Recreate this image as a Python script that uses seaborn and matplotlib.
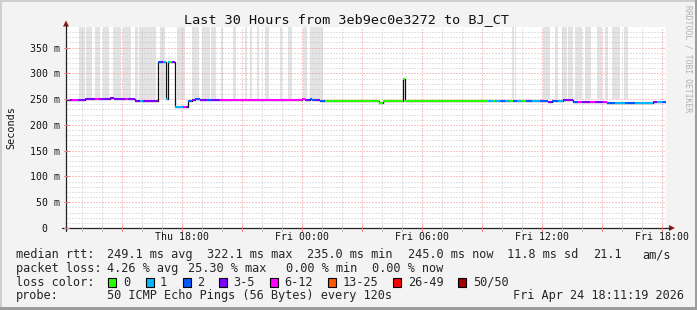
import numpy as np
import pandas as pd
import matplotlib
matplotlib.use("Agg")
import matplotlib.pyplot as plt
import seaborn as sns
from matplotlib.patches import Rectangle, Polygon
from matplotlib.lines import Line2D

# ---------------- data (hours since Thu 12:11:19) ----------------
seg_start = [0.0, 0.3, 0.6, 0.95, 1.45, 1.65, 2.2, 2.4, 2.95, 3.1, 3.45, 3.7, 3.85,
             4.6, 4.75, 4.85, 5.0, 5.1, 5.2, 5.3, 5.45, 5.85, 6.0, 6.1, 6.3, 6.45,
             6.7, 7.05, 7.3, 7.7, 11.8, 11.95, 12.2, 12.3, 12.5, 12.7, 12.95,
             15.65, 15.85, 16.85, 16.95, 20.85, 21.1, 21.35, 21.45, 21.7, 21.95,
             22.2, 22.35, 22.55, 22.8, 23.0, 23.3, 23.7, 23.95, 24.1, 24.3, 24.6,
             24.85, 25.35, 25.6, 25.8, 26.2, 26.45, 26.85, 27.05, 27.45, 27.95,
             28.45, 29.35, 29.55, 29.8]
seg_value = [248, 248, 248, 251, 251, 251, 252, 251, 251, 251, 246, 246, 246,
             322, 322, 322, 250, 322, 322, 322, 235, 235, 235, 246, 248, 251,
             248, 248, 248, 248, 251, 248, 251, 248, 248, 246, 246,
             243, 246, 290, 246, 247, 247, 247, 246, 246, 246,
             247, 247, 247, 247, 247, 247, 247, 246, 244, 246, 246,
             248, 245, 245, 244, 244, 244, 244, 243, 243, 243,
             243, 245, 244, 244]
seg_loss = [3, 4, 3, 3, 4, 3, 3, 3, 4, 3, 3, 1, 3,
            2, 3, 1, 1, 1, 0, 3, 1, 4, 3, 2, 3, 2,
            3, 2, 3, 4, 4, 3, 2, 2, 3, 2, 0,
            0, 0, 0, 0, 0, 1, 0, 1, 2, 1,
            0, 2, 1, 0, 2, 1, 2, 2, 3, 2, 1,
            3, 2, 4, 3, 4, 3, 4, 2, 1, 2,
            1, 3, 1, 2]
end_hour = 30.0

smoke_start = [0.65, 1.0, 1.45, 1.85, 2.35, 2.85, 3.45, 3.65, 4.7, 5.55, 6.3,
               6.8, 7.25, 7.75, 8.35, 8.95, 9.2, 9.55, 9.95, 10.7, 11.1, 11.85, 12.2,
               22.3, 22.45, 23.85, 24.45, 24.8, 25.1, 25.45, 25.95, 26.55, 26.95,
               27.3, 27.9]
smoke_end = [0.95, 1.3, 1.7, 2.15, 2.75, 3.25, 3.6, 4.5, 4.95, 5.95, 6.65,
             7.2, 7.5, 7.85, 8.5, 9.05, 9.3, 9.65, 10.15, 10.8, 11.3, 12.05, 12.85,
             22.38, 22.52, 24.2, 24.6, 25.05, 25.35, 25.8, 26.25, 26.8, 27.1,
             27.7, 28.1]
smoke_low = 251

loss_labels = ["0", "1", "2", "3-5", "6-12", "13-25", "26-49", "50/50"]
loss_colors = ["#26ff00", "#00b8ff", "#0059ff", "#7e00ff", "#ff00ff",
               "#ff5500", "#ff0000", "#a10000"]

xtick_hours = [5.811, 11.811, 17.811, 23.811, 29.811]
xtick_labels = ["Thu 18:00", "Fri 00:00", "Fri 06:00", "Fri 12:00", "Fri 18:00"]
ytick_values = [0, 50, 100, 150, 200, 250, 300, 350]
ytick_labels = ["0  ", "50 m", "100 m", "150 m", "200 m", "250 m", "300 m", "350 m"]

stats_rtt = ["249.1 ms avg", "322.1 ms max", "235.0 ms min", "245.0 ms now",
             "11.8 ms sd", "21.1", "am/s"]
stats_loss = ["4.26 % avg", "25.30 % max", "0.00 % min", "0.00 % now"]
probe_text = "50 ICMP Echo Pings (56 Bytes) every 120s"
stamp_text = "Fri Apr 24 18:11:19 2026"
title_text = "Last 30 Hours from 3eb9ec0e3272 to BJ_CT"

# ---------------- figure ----------------
W, H = 697, 310
sns.set_style("white")
plt.rcParams["font.family"] = ["DejaVu Sans Mono", "DejaVu Sans"]

fig = plt.figure(figsize=(W / 100, H / 100), dpi=100, facecolor="#f3f3f3")

def fx(x):
    return x / W

def fy(y):
    return 1 - y / H

# frame
fig.patches.append(Rectangle((0, 0), 1, 1, transform=fig.transFigure,
                             facecolor="#f3f3f3", edgecolor="none", zorder=-10))
fig.patches.append(Rectangle((0, fy(2)), 1, 2 / H, transform=fig.transFigure,
                             facecolor="#cfcfcf", edgecolor="none", zorder=-9))
fig.patches.append(Rectangle((0, 0), 2 / W, 1, transform=fig.transFigure,
                             facecolor="#cfcfcf", edgecolor="none", zorder=-9))
fig.patches.append(Rectangle((0, 0), 1, 3 / H, transform=fig.transFigure,
                             facecolor="#9c9c9c", edgecolor="none", zorder=-8))
fig.patches.append(Rectangle((fx(W - 2), 0), 2 / W, 1, transform=fig.transFigure,
                             facecolor="#9c9c9c", edgecolor="none", zorder=-8))

X0, X1, Y0, Y1 = 66, 666, 228, 27
ax = fig.add_axes([fx(X0), fy(Y0), (X1 - X0) / W, (Y0 - Y1) / H])
ax.set_facecolor("white")
ax.set_xlim(0, 30)
ax.set_ylim(0, 390)
for s in ax.spines.values():
    s.set_visible(False)

# smoke
widths = [e - s for s, e in zip(smoke_start, smoke_end)]
ax.bar(smoke_start, 390 - smoke_low, width=widths, bottom=smoke_low, align="edge",
       color="#e3e3e3", linewidth=0, zorder=1)

# grid (dotted)
dot = (0, (1, 2))
hour_lines = [0.811 + i for i in range(30)]
for h in hour_lines:
    major = (round(h - 0.811) + 13) % 3 == 0
    ax.axvline(h, color="#f08c8c" if major else "#c4c4c4", lw=0.72, ls=dot, zorder=2)
for v in range(10, 390, 10):
    major = v % 50 == 0
    ax.axhline(v, color="#f08c8c" if major else "#c4c4c4", lw=0.72, ls=dot, zorder=2)

# median line: black steps + loss-coloured segments
t_full = seg_start + [end_hour]
v_full = seg_value + [seg_value[-1]]
df = pd.DataFrame({"t": t_full, "v": v_full})
sns.lineplot(data=df, x="t", y="v", drawstyle="steps-post", color="#111111",
             linewidth=0.9, ax=ax, estimator=None, sort=False, zorder=3)
seg_end = seg_start[1:] + [end_hour]
ax.hlines(seg_value, seg_start, seg_end, colors=[loss_colors[c] for c in seg_loss],
          linewidth=1.5, zorder=4)

# ticks and labels
ax.set_xticks(xtick_hours)
ax.set_xticklabels(xtick_labels)
ax.set_yticks(ytick_values)
ax.set_yticklabels(ytick_labels)
ax.tick_params(axis="x", length=0, pad=3.2, labelsize=7.1, colors="#111111")
ax.tick_params(axis="y", length=0, pad=4.4, labelsize=7.1, colors="#111111")
ax.set_xlabel("")
ax.set_ylabel("")

# axis lines with arrows
fig.add_artist(Line2D([fx(X0), fx(X0)], [fy(231), fy(25)], transform=fig.transFigure,
                      color="#222222", lw=0.9))
fig.add_artist(Line2D([fx(62), fx(670)], [fy(Y0), fy(Y0)], transform=fig.transFigure,
                      color="#222222", lw=0.9))
fig.add_artist(Polygon([[fx(63), fy(26.5)], [fx(69), fy(26.5)], [fx(66), fy(20.5)]],
                       closed=True, transform=fig.transFigure, color="#8b1a1a", lw=0))
fig.add_artist(Polygon([[fx(669), fy(225)], [fx(669), fy(231)], [fx(675), fy(228)]],
                       closed=True, transform=fig.transFigure, color="#8b1a1a", lw=0))

# small tick marks on the axes
for h in hour_lines:
    major = (round(h - 0.811) + 13) % 3 == 0
    xp = X0 + h * 20
    fig.add_artist(Line2D([fx(xp), fx(xp)], [fy(226), fy(230.5)], transform=fig.transFigure,
                          color="#f08080" if major else "#b8b8b8", lw=0.72))
for v in range(0, 390, 50):
    yp = Y0 - v * (Y0 - Y1) / 390
    fig.add_artist(Line2D([fx(63.5), fx(68.5)], [fy(yp), fy(yp)], transform=fig.transFigure,
                          color="#f08080", lw=0.72))

# title, labels
fig.text(fx(347), fy(19.5), title_text, ha="center", va="center", fontsize=9.7,
         color="#111111")
fig.text(fx(11), fy(127.5), "Seconds", rotation=90, ha="center", va="center",
         fontsize=7.3, color="#111111")
fig.text(fx(688), fy(59), "RRDTOOL / TOBI OETIKER", rotation=270, ha="center",
         va="center", fontsize=5.8, color="#b0b0b0")

LF = 8.6
# line 1
y1 = 254.5
fig.text(fx(16), fy(y1), "median rtt:", ha="left", va="center", fontsize=LF)
for txt, xp in zip(stats_rtt, [107, 207, 307.3, 407.7, 507.3, 593.3, 642.3]):
    fig.text(fx(xp), fy(y1), txt, ha="left", va="center", fontsize=LF)
# line 2
y2 = 268.3
fig.text(fx(16), fy(y2), "packet loss:", ha="left", va="center", fontsize=LF)
for txt, xp in zip(stats_loss, [107, 188.3, 285.7, 372.3]):
    fig.text(fx(xp), fy(y2), txt, ha="left", va="center", fontsize=LF)
# line 3
y3 = 282.3
fig.text(fx(16), fy(y3), "loss color:", ha="left", va="center", fontsize=LF)
box_x = [108.3, 145.7, 182.7, 219.3, 270, 328.3, 393.3, 458.3]
lab_x = [123.3, 160, 197.3, 233.3, 284, 342.5, 408.3, 473.3]
for lab, col, bx, lx in zip(loss_labels, loss_colors, box_x, lab_x):
    fig.patches.append(Rectangle((fx(bx), fy(y3 + 4.5)), 8 / W, 9 / H,
                                 transform=fig.transFigure, facecolor=col,
                                 edgecolor="#000000", lw=0.8))
    fig.text(fx(lx), fy(y3), lab, ha="left", va="center", fontsize=LF)
# line 4
y4 = 296
fig.text(fx(16), fy(y4), "probe:", ha="left", va="center", fontsize=LF)
fig.text(fx(107), fy(y4), probe_text, ha="left", va="center", fontsize=LF)
fig.text(fx(513.3), fy(y4), stamp_text, ha="left", va="center", fontsize=LF)

fig.savefig("out.png", dpi=100, facecolor=fig.get_facecolor())
